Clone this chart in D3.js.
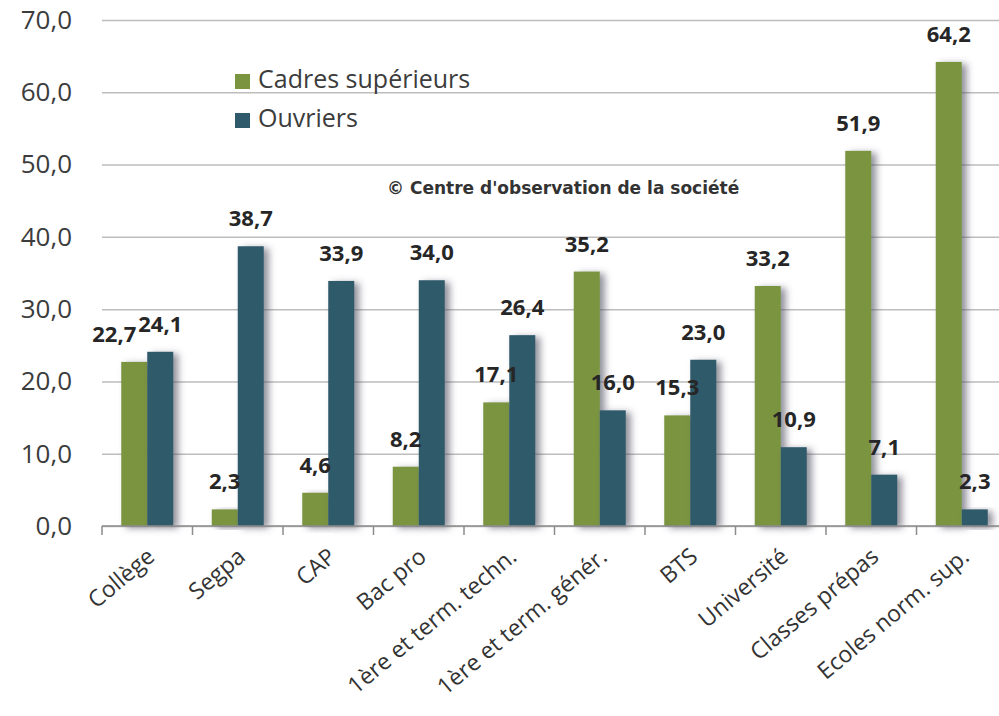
<!DOCTYPE html>
<html>
<head>
<meta charset="utf-8">
<script src="https://cdn.jsdelivr.net/npm/d3@7"></script>
<style>
  body { margin: 0; background: #fff; }
  svg { display: block; font-family: "Open Sans", sans-serif; }
</style>
</head>
<body>
<div id="app"></div>
<script>
const categories = ['Collège', 'Segpa', 'CAP', 'Bac pro', '1ère et term. techn.', '1ère et term. génér.', 'BTS', 'Université', 'Classes prépas', 'Ecoles norm. sup.'];
const seriesNames = ['Cadres supérieurs', 'Ouvriers'];
const cadres = [22.7, 2.3, 4.6, 8.2, 17.1, 35.2, 15.3, 33.2, 51.9, 64.2];
const ouvriers = [24.1, 38.7, 33.9, 34.0, 26.4, 16.0, 23.0, 10.9, 7.1, 2.3];
const yTicks = [0, 10, 20, 30, 40, 50, 60, 70];
const colors = ['#7a9440', '#2f5a6b'];

const W = 999, H = 716;
const fr = d3.formatLocale({ decimal: ',', thousands: ' ', grouping: [3], currency: ['', ' €'] });
const fmt = fr.format('.1f');

const svg = d3.select('#app').append('svg').attr('width', W).attr('height', H);

// bar shadow
const defs = svg.append('defs');
defs.append('filter').attr('id', 'shadow')
  .attr('x', '-20%').attr('y', '-10%').attr('width', '180%').attr('height', '130%')
  .append('feDropShadow')
  .attr('dx', 5).attr('dy', 2).attr('stdDeviation', 3.5)
  .attr('flood-color', '#4a4a5a').attr('flood-opacity', 0.6);

const x0 = d3.scaleBand().domain(categories).range([102, 1007]);
const x1 = d3.scaleBand().domain(seriesNames).range([0, x0.bandwidth()]).paddingOuter(0.74);
const y = d3.scaleLinear().domain([0, 70]).range([526, 20]);

// gridlines
svg.append('g')
  .attr('transform', 'translate(102,0)')
  .call(d3.axisLeft(y).tickValues(yTicks).tickSize(-(W - 102)).tickFormat(''))
  .call(g => g.select('.domain').remove())
  .call(g => g.selectAll('line').attr('stroke', '#bdbdbd').attr('stroke-width', 1.5));

// y labels
svg.append('g')
  .attr('transform', 'translate(72,0)')
  .call(d3.axisLeft(y).tickValues(yTicks).tickSize(0).tickFormat(fmt))
  .call(g => g.select('.domain').remove())
  .call(g => g.selectAll('text')
    .attr('x', 0)
    .attr('font-size', 26)
    .attr('font-family', '"Open Sans", sans-serif')
    .attr('fill', '#3c3c3c'));

// bars
const data = categories.map((c, i) => ({ cat: c, values: [cadres[i], ouvriers[i]] }));

const groups = svg.append('g').selectAll('g')
  .data(data)
  .join('g')
  .attr('transform', d => `translate(${x0(d.cat)},0)`);

groups.selectAll('rect')
  .data(d => d.values.map((v, j) => ({ v, s: seriesNames[j], j })))
  .join('rect')
  .attr('x', d => x1(d.s))
  .attr('y', d => y(d.v))
  .attr('width', x1.bandwidth())
  .attr('height', d => y(0) - y(d.v))
  .attr('fill', d => colors[d.j])
  .attr('filter', 'url(#shadow)');

// x axis line + ticks at category boundaries
svg.append('line')
  .attr('x1', 102).attr('x2', W).attr('y1', y(0)).attr('y2', y(0))
  .attr('stroke', '#8c8c8c').attr('stroke-width', 1.5);

svg.append('g')
  .attr('transform', `translate(${-x0.bandwidth() / 2},${y(0)})`)
  .call(d3.axisBottom(x0).tickSize(9).tickFormat(''))
  .call(g => g.select('.domain').remove())
  .call(g => g.selectAll('line').attr('stroke', '#8c8c8c').attr('stroke-width', 1.5));

// category labels
svg.append('g').selectAll('text')
  .data(categories)
  .join('text')
  .attr('transform', d => `translate(${x0(d) + x0.bandwidth() / 2 + 9},${y(0) + 33}) rotate(-40)`)
  .attr('text-anchor', 'end')
  .attr('font-size', 23)
  .attr('fill', '#333')
  .text(d => d);

// value labels
const labelLayer = svg.append('g');
data.forEach(d => {
  const boxes = d.values.map((v, j) => {
    const t = labelLayer.append('text')
      .attr('x', x0(d.cat) + x1(seriesNames[j]) + x1.bandwidth() / 2)
      .attr('y', y(v) - 20)
      .attr('text-anchor', 'middle')
      .attr('font-size', 22)
      .attr('font-weight', 'bold')
      .attr('fill', '#262626')
      .text(fmt(v));
    return { t, b: t.node().getBBox() };
  });
  // push the first label left when the two labels of a group collide
  const [a, b] = boxes;
  const overlapX = a.b.x + a.b.width - b.b.x;
  const overlapY = Math.min(a.b.y + a.b.height, b.b.y + b.b.height) - Math.max(a.b.y, b.b.y);
  if (overlapX > 0 && overlapY > 0) {
    a.t.attr('x', +a.t.attr('x') - overlapX - 2);
  }
});

// legend
const legend = svg.append('g').attr('transform', 'translate(235,74)');
seriesNames.forEach((s, i) => {
  const row = legend.append('g').attr('transform', `translate(0,${i * 39})`);
  row.append('rect').attr('width', 15).attr('height', 15).attr('fill', colors[i]);
  row.append('text').attr('x', 23).attr('y', 14)
    .attr('font-size', 25).attr('fill', '#3c3c3c').text(s);
});

// source note
svg.append('text')
  .attr('x', 387).attr('y', 194)
  .attr('font-family', '"DejaVu Sans", sans-serif')
  .attr('font-size', 17)
  .attr('font-weight', 'bold')
  .attr('fill', '#333')
  .text('© Centre d\'observation de la société');
</script>
</body>
</html>
